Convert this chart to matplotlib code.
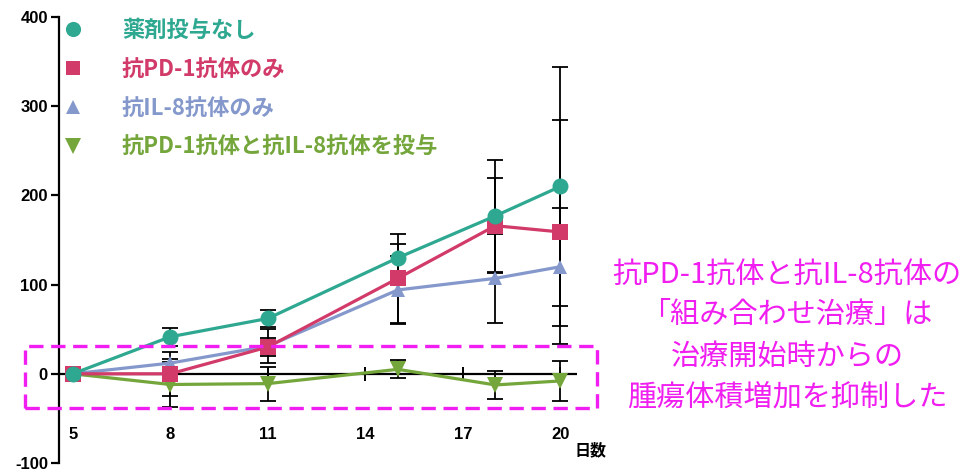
import matplotlib
matplotlib.use("Agg")
import matplotlib.pyplot as plt
from matplotlib.lines import Line2D
from matplotlib.patches import Rectangle

plt.rcParams['font.family'] = ['Noto Sans CJK JP', 'DejaVu Sans']

# Measurement days and tumour volume change per group (mean, error)
days = [5, 8, 11, 15, 18, 20]
x_ticks = [5, 8, 11, 14, 17, 20]
y_ticks = [-100, 0, 100, 200, 300, 400]
y_tick_labels = ["-100", "0", "100", "200", "300", "400"]

series_labels = ["薬剤投与なし", "抗PD-1抗体のみ", "抗IL-8抗体のみ", "抗PD-1抗体と抗IL-8抗体を投与"]

no_drug = [0, 41.5, 62, 130, 177, 210]
no_drug_err = [0, 10, 10, 16, 63, 134]
pd1_only = [0, 0, 30, 107, 166, 159]
pd1_only_err = [0, 25, 10, 50, 53, 126]
il8_only = [0, 12, 31, 94, 107, 120]
il8_only_err = [0, 5, 19, 38, 50, 66]
combo = [0, -12, -11, 5, -12.5, -8]
combo_err = [0, 25, 19, 10, 16, 22]

note_text = "抗PD-1抗体と抗IL-8抗体の\n「組み合わせ治療」は\n治療開始時からの\n腫瘍体積増加を抑制した"

colors = ["#2EA890", "#D13A69", "#8498CC", "#74A63B"]
markers = ["o", "s", "^", "v"]
msizes = [11.5, 11, 10.5, 11.5]
magenta = "#F01EF0"

fig = plt.figure(figsize=(9.71, 4.71), dpi=100)
ax = fig.add_axes([59 / 971, 8 / 471, 541 / 971, 446 / 471])
ax.set_xlim(4.578, 21.22)
ax.set_ylim(-100, 400)

means = [no_drug, pd1_only, il8_only, combo]
errs = [no_drug_err, pd1_only_err, il8_only_err, combo_err]

# error bars underneath the lines
for m, e in zip(means, errs):
    ax.errorbar(days, m, yerr=e, fmt="none", ecolor="black", elinewidth=1.3,
                capsize=5.5, capthick=1.3, zorder=2)

# zero line acting as x axis, with tick marks crossing it
ax.plot([ax.get_xlim()[0], 20.5], [0, 0], color="black", lw=1.6, zorder=1.5,
        solid_capstyle="butt")
ax.plot(x_ticks, [0] * len(x_ticks), linestyle="none", marker="|",
        markersize=9.5, mew=1.4, color="black", zorder=1.5)

# draw order: blue, green, red, teal (teal on top)
order = [2, 3, 1, 0]
for i in order:
    ax.plot(days, means[i], color=colors[i], lw=2.3, marker=markers[i],
            markersize=msizes[i], markeredgewidth=0, zorder=3 + order.index(i))

for side in ["top", "right", "bottom"]:
    ax.spines[side].set_visible(False)
ax.spines["left"].set_linewidth(1.6)
ax.set_xticks([])
ax.set_yticks(y_ticks)
ax.set_yticklabels(y_tick_labels, fontsize=12, fontweight="bold",
                   family=["Liberation Sans", "DejaVu Sans"])
ax.tick_params(axis="y", length=6, width=1.6, pad=2)

for xt in x_ticks:
    ax.text(xt, -68.6, str(xt), ha="center", va="center", fontsize=12,
            fontweight="bold", family=["Liberation Sans", "DejaVu Sans"])
ax.text(20.45, -86, "日数", ha="left", va="center", fontsize=11.5,
        fontweight="bold", color="black")

# legend
handles = [Line2D([], [], linestyle="none", marker=markers[i], color=colors[i],
                  markersize=msizes[i] * 0.95, markeredgewidth=0) for i in range(4)]
leg = ax.legend(handles, series_labels, loc="upper left",
                bbox_to_anchor=(62 / 971, 1 - 19 / 471), bbox_transform=fig.transFigure,
                frameon=False, handlelength=1.0, handletextpad=1.7,
                labelspacing=0.71, borderpad=0, borderaxespad=0,
                prop={"size": 16, "weight": "bold"})
for t, c in zip(leg.get_texts(), colors):
    t.set_color(c)

# highlight box around the combination group
ax.add_patch(Rectangle((3.53, -38.5), 17.6, 70, fill=False, edgecolor=magenta,
                       lw=2.4, linestyle=(0, (4.3, 2.3)), clip_on=False, zorder=6))

fig.text(787 / 971, 1 - 336 / 471, note_text, ha="center", va="center",
         fontsize=21, color=magenta, linespacing=1.48)

fig.savefig("out.png", dpi=100, facecolor="white")
